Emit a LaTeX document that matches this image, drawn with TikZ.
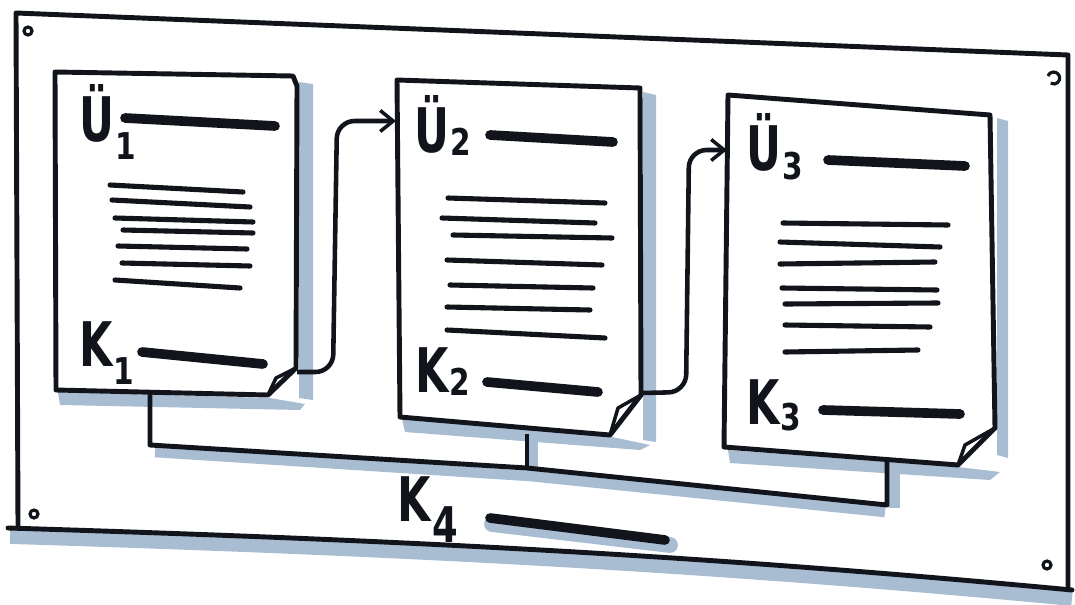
\documentclass[tikz,border=0pt]{standalone}
\usepackage{fontspec}
\setmainfont{DejaVu Sans}
\usepackage{tikz}
\usetikzlibrary{arrows.meta, positioning, calc}
\definecolor{inkblack}{RGB}{18,20,28}
\definecolor{shadowblue}{RGB}{168,188,210}
\newcommand{\pagelabel}[3]{\scalebox{0.7}[1]{#1}\kern0.5pt\raisebox{-#3}{\scalebox{0.8}[1]{\fontsize{21}{21}\selectfont #2}}}

\begin{document}
\begin{tikzpicture}[
    x=0.02cm, y=-0.02cm,
    board/.style={draw=inkblack, line width=2.8pt, line cap=round, line join=round},
    page/.style={draw=inkblack, line width=2.8pt, fill=white, line cap=round, line join=round},
    shade/.style={fill=shadowblue, draw=none},
    bar/.style={inkblack, line width=5.5pt, line cap=round},
    textline/.style={inkblack, line width=2.9pt, line cap=round},
    lbl/.style={anchor=base west, inner sep=0pt, text=inkblack, font=\bfseries\fontsize{35}{36}\selectfont},
    arr/.style={-{Straight Barb[length=2.6mm, width=4.2mm, line width=2pt]}, draw=inkblack, line width=2.6pt, rounded corners=10pt},
    link/.style={draw=inkblack, line width=2.8pt, line join=round},
]
\useasboundingbox (0,0) rectangle (1075,605);

% board
\draw[shadowblue, line width=9pt] (10,536) .. controls (400,548) and (700,563) .. (1072,598);
\draw[board] (18,525) -- (16,13) -- (1068,55) -- (1068,588);
\draw[board] (8,528) .. controls (400,540) and (700,555) .. (1072,590);
\draw[inkblack, line width=1.8pt] (28,31) circle[radius=4];
\draw[inkblack, line width=1.8pt] (34,514) circle[radius=4];
\draw[inkblack, line width=1.8pt] (1047,565) circle[radius=4];
\draw[inkblack, line width=1.8pt] (1048,76) arc[start angle=200, end angle=480, radius=6];

% page shadows
\fill[shade] (299,82) -- (313,84) -- (313,400) -- (299,398) -- cycle;
\fill[shade] (58,392) -- (270,398) -- (305,404) -- (300,410) -- (60,405) -- cycle;
\fill[shade] (643,92) -- (656,95) -- (656,442) -- (643,440) -- cycle;
\fill[shade] (402,419) -- (612,437) -- (650,445) -- (640,450) -- (405,432) -- cycle;
\fill[shade] (997,118) -- (1008,121) -- (1008,458) -- (997,455) -- cycle;
\fill[shade] (728,450) -- (958,467) -- (1000,472) -- (990,480) -- (730,463) -- cycle;

% pages
\draw[page] (55,72) -- (293,76) -- (297,86) -- (296,368) -- (268,395) -- (56,390) -- cycle;
\draw[page] (397,80) -- (640,88) -- (641,395) -- (610,435) -- (400,417) -- cycle;
\draw[page] (728,95) -- (990,115) -- (995,428) -- (958,465) -- (724,447) -- cycle;
\draw[link, line width=2pt] (296,368) -- (276,378) -- (268,395);
\draw[link, line width=2pt] (641,395) -- (618,408) -- (610,435);
\draw[link, line width=2pt] (995,428) -- (965,445) -- (958,465);

% headings and closing lines
\node[lbl] (u1) at (79,141) {\pagelabel{Ü}{1}{0.3em}};
\node[lbl] (u2) at (414,152) {\pagelabel{Ü}{2}{0.05em}};
\node[lbl] (u3) at (746,170) {\pagelabel{Ü}{3}{0.15em}};
\node[lbl] (k1) at (79,366) {\pagelabel{K}{1}{0.3em}};
\node[lbl] (k2) at (415,392) {\pagelabel{K}{2}{0.05em}};
\node[lbl] (k3) at (746,424) {\pagelabel{K}{3}{0.1em}};
\node[lbl] (k4) at (397,521) {\scalebox{0.7}[1]{K}\kern1pt\raisebox{-0.35em}{\scalebox{0.75}[1]{\fontsize{28}{28}\selectfont 4}}};

\draw[bar] (125,118) -- (275,126);
\draw[bar] (490,135) -- (613,142);
\draw[bar] (828,160) -- (965,166);
\draw[bar] (142,352) -- (263,364);
\draw[bar] (487,382) -- (598,392);
\draw[bar] (823,410) -- (960,414);
\draw[shadowblue, line width=9pt, line cap=round] (492,524) -- (670,545);
\draw[bar] (490,518) -- (665,540);

% body text
\foreach \xa/\ya/\xb/\yb in {110/185/243/192, 112/200/250/207, 115/218/253/222, 123/230/253/233,
    118/246/247/249, 122/263/250/266, 115/280/240/288,
    448/198/605/203, 442/218/595/223, 453/235/612/238, 447/260/602/265,
    450/285/593/288, 447/307/590/310, 447/330/605/338,
    783/223/948/225, 780/242/940/247, 780/264/935/262, 782/288/937/290,
    785/304/938/303, 785/325/930/327, 785/352/918/350}
  \draw[textline] (\xa,\ya) -- (\xb,\yb);

% flow between pages
\coordinate (p1out) at (297,372);
\coordinate (p2in) at (396,121);
\coordinate (p2out) at (642,393);
\coordinate (p3in) at (727,150);
\draw[arr] (p1out) -- (333,372) -- (337,121) -- (p2in);
\draw[arr] (p2out) -- (686,392) -- (689,150) -- (p3in);

% common closing
\coordinate (s1) at (150,392);
\coordinate (s2) at (527,434);
\coordinate (s3) at (887,462);
\coordinate (j1) at (150,445);
\coordinate (j2) at (527,468);
\coordinate (j3) at (887,505);
\fill[shade] (527,436) rectangle (538,472);
\fill[shade] (889,464) rectangle (900,508);
\draw[shadowblue, line width=6pt] (155,452) -- (530,476) -- (885,512);
\draw[link] (s1) -- (j1) -- (j2) -- (j3) -- (s3);
\draw[link] (s2) -- (j2);
\end{tikzpicture}
\end{document}
